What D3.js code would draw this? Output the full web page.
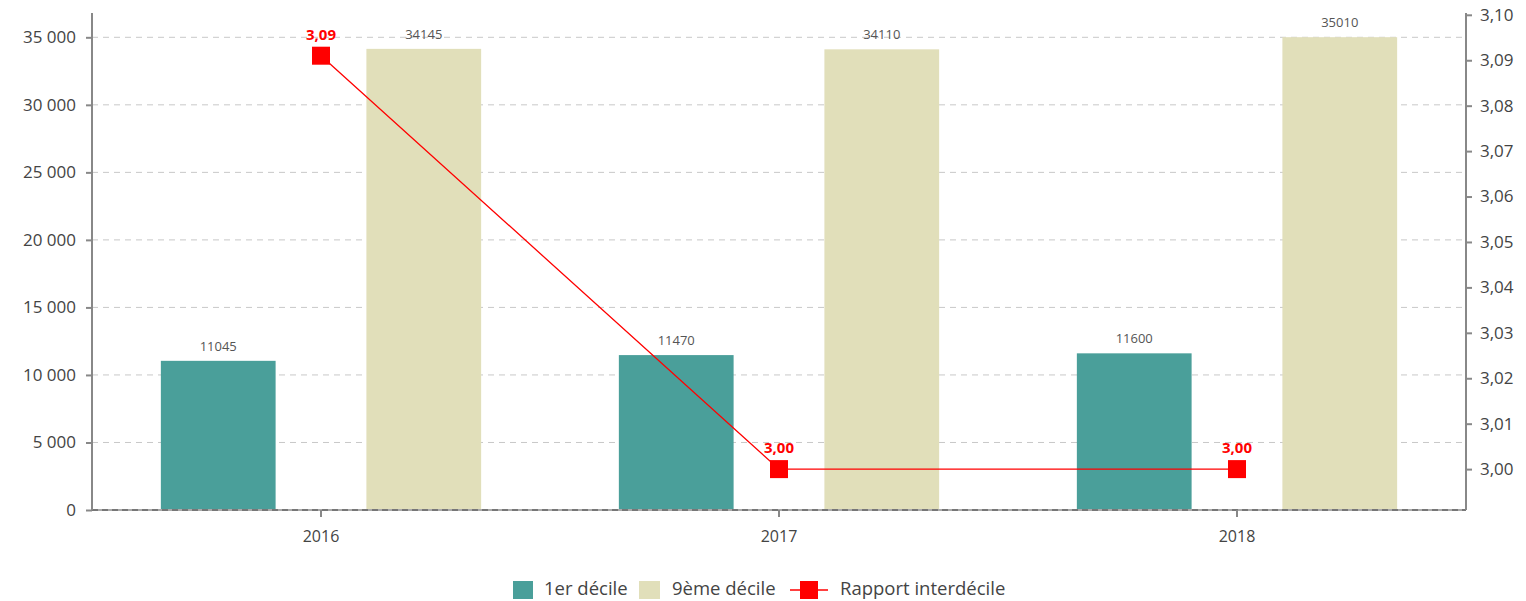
<!DOCTYPE html>
<html>
<head>
<meta charset="utf-8">
<script src="https://cdn.jsdelivr.net/npm/d3@7"></script>
<style>
  html, body { margin: 0; padding: 0; background: #fff; }
  svg { display: block; font-family: "Open Sans", "Noto Sans", sans-serif; }
</style>
</head>
<body>
<svg id="chart" width="1526" height="601"></svg>
<script>
/* Déciles de revenu + rapport interdécile, 2016-2018. */

var years = ["2016", "2017", "2018"];
var seriesNames = ["1er décile", "9ème décile"];
var decile1 = [11045, 11470, 11600];
var decile9 = [34145, 34110, 35010];
var ratio = [3.091, 3.00, 3.00];
var leftTicks = [0, 5000, 10000, 15000, 20000, 25000, 30000, 35000];
var rightTicks = [3.00, 3.01, 3.02, 3.03, 3.04, 3.05, 3.06, 3.07, 3.08, 3.09, 3.10];
var lineName = "Rapport interdécile";

var barColors = ["#4a9f9a", "#e1dfba"];
var red = "#ff0000";
var axisGray = "#888";

var svg = d3.select("#chart");
var plotL = 92, plotR = 1466, plotT = 13, plotB = 510;

var x = d3.scaleBand().domain(years).range([plotL, plotR]).padding(0);
var xInner = d3.scaleBand().domain(seriesNames).range([0, x.bandwidth()])
  .paddingInner(0.4417).paddingOuter(0.335);
var yL = d3.scaleLinear().domain([0, 36800]).range([plotB, plotT]);
var yR = d3.scaleLinear().domain([2.991, 3.1004]).range([plotB, plotT]);

var fmtThousands = function (v) {
  return d3.format(",")(v).replace(/,/g, " ");
};
var fmtRatio = function (v) { return d3.format(".2f")(v).replace(".", ","); };

// gridlines
svg.append("g").selectAll("line").data(leftTicks.filter(function (t) { return t > 0; }))
  .join("line")
  .attr("x1", plotL).attr("x2", plotR)
  .attr("y1", function (d) { return yL(d); }).attr("y2", function (d) { return yL(d); })
  .attr("stroke", "#c8c8c8").attr("stroke-width", 1).attr("stroke-dasharray", "6,5");

// bars
var data = years.map(function (y, i) {
  return { year: y, values: [
    { name: seriesNames[0], value: decile1[i] },
    { name: seriesNames[1], value: decile9[i] }
  ] };
});

var groups = svg.append("g").selectAll("g").data(data).join("g")
  .attr("transform", function (d) { return "translate(" + x(d.year) + ",0)"; });

groups.selectAll("rect").data(function (d) { return d.values; }).join("rect")
  .attr("x", function (d) { return xInner(d.name); })
  .attr("width", xInner.bandwidth())
  .attr("y", function (d) { return yL(d.value); })
  .attr("height", function (d) { return plotB - yL(d.value); })
  .attr("fill", function (d, i) { return barColors[i]; });

groups.selectAll("text").data(function (d) { return d.values; }).join("text")
  .attr("x", function (d) { return xInner(d.name) + xInner.bandwidth() / 2; })
  .attr("y", function (d) { return yL(d.value) - 10; })
  .attr("text-anchor", "middle")
  .attr("font-size", 13).attr("fill", "#555")
  .text(function (d) { return d.value; });

// baseline
svg.append("line").attr("x1", plotL).attr("x2", plotR).attr("y1", plotB).attr("y2", plotB)
  .attr("stroke", "#aaa").attr("stroke-width", 2);
svg.append("line").attr("x1", plotL).attr("x2", plotR).attr("y1", plotB).attr("y2", plotB)
  .attr("stroke", "#777").attr("stroke-width", 2).attr("stroke-dasharray", "6,4");

// left axis
var gL = svg.append("g").attr("transform", "translate(" + plotL + ",0)")
  .call(d3.axisLeft(yL).tickValues(leftTicks).tickFormat(fmtThousands).tickSize(6).tickPadding(10));
gL.select(".domain").attr("d", "M0," + plotT + "V" + plotB).attr("stroke", axisGray).attr("stroke-width", 2);
gL.selectAll(".tick line").attr("stroke", axisGray).attr("stroke-width", 2);
gL.selectAll(".tick text").attr("font-size", 17).attr("fill", "#444").attr("font-family", "Open Sans");

// right axis
var gR = svg.append("g").attr("transform", "translate(" + plotR + ",0)")
  .call(d3.axisRight(yR).tickValues(rightTicks).tickFormat(fmtRatio).tickSize(6).tickPadding(8));
gR.select(".domain").attr("d", "M0," + plotT + "V" + plotB).attr("stroke", axisGray).attr("stroke-width", 2);
gR.selectAll(".tick line").attr("stroke", axisGray).attr("stroke-width", 2);
gR.selectAll(".tick text").attr("font-size", 17).attr("fill", "#444").attr("font-family", "Open Sans");

// bottom axis
var gB = svg.append("g").attr("transform", "translate(0," + plotB + ")")
  .call(d3.axisBottom(x).tickSize(7).tickPadding(14));
gB.select(".domain").remove();
gB.selectAll(".tick line").attr("stroke", axisGray).attr("stroke-width", 2);
gB.selectAll(".tick text").attr("font-size", 16).attr("fill", "#444").attr("font-family", "Open Sans");

// ratio line
var cx = function (d, i) { return x(years[i]) + x.bandwidth() / 2; };
var line = d3.line().x(cx).y(function (d) { return yR(d); });
svg.append("path").datum(ratio).attr("d", line)
  .attr("fill", "none").attr("stroke", red).attr("stroke-width", 1.3);
svg.append("g").selectAll("rect").data(ratio).join("rect")
  .attr("x", function (d, i) { return cx(d, i) - 9; })
  .attr("y", function (d) { return yR(d) - 9; })
  .attr("width", 18).attr("height", 18).attr("fill", red);
svg.append("g").selectAll("text").data(ratio).join("text")
  .attr("x", cx)
  .attr("y", function (d) { return yR(d) - 16; })
  .attr("text-anchor", "middle")
  .attr("font-size", 15).attr("font-weight", "bold").attr("fill", red)
  .text(fmtRatio);

// legend
var lg = svg.append("g").attr("font-size", 18.5).attr("fill", "#444");
var legendY = 590;
lg.append("rect").attr("x", 513).attr("y", legendY - 9).attr("width", 20).attr("height", 18).attr("fill", barColors[0]);
lg.append("text").attr("x", 544).attr("y", legendY + 5).text(seriesNames[0]);
lg.append("rect").attr("x", 639).attr("y", legendY - 9).attr("width", 21).attr("height", 18).attr("fill", barColors[1]);
lg.append("text").attr("x", 672).attr("y", legendY + 5).text(seriesNames[1]);
lg.append("line").attr("x1", 790).attr("x2", 828).attr("y1", legendY).attr("y2", legendY)
  .attr("stroke", red).attr("stroke-width", 1.3);
lg.append("rect").attr("x", 800).attr("y", legendY - 9).attr("width", 18).attr("height", 18).attr("fill", red);
lg.append("text").attr("x", 840).attr("y", legendY + 5).text(lineName);
</script>
</body>
</html>
